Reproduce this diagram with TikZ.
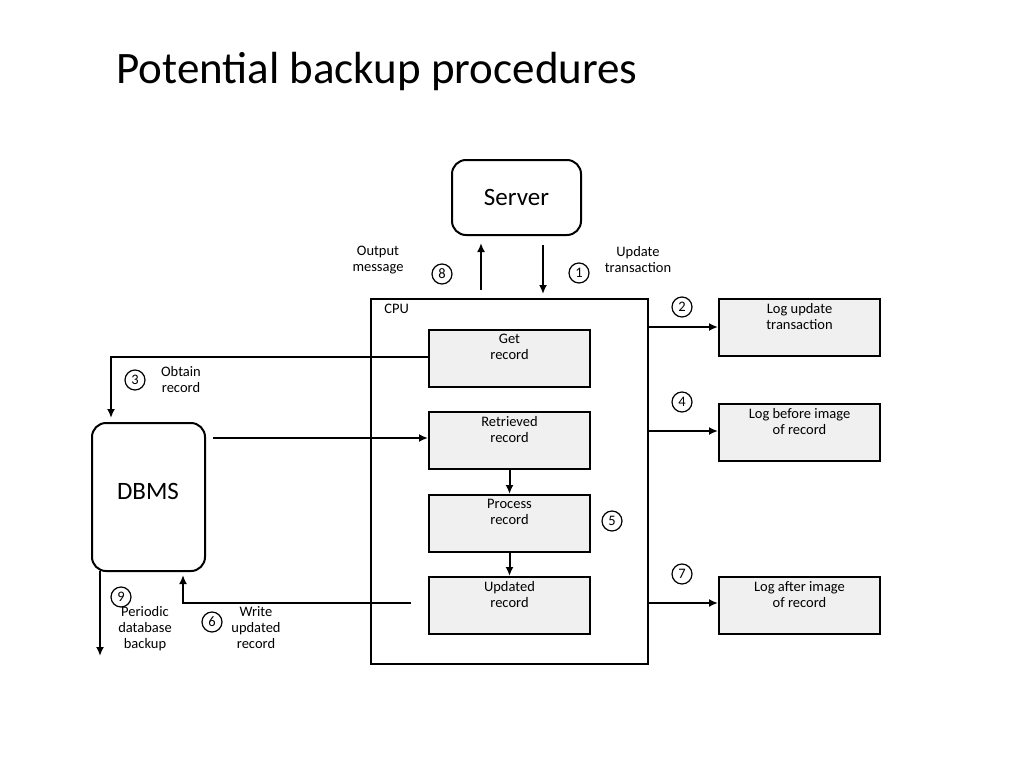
\documentclass[tikz,border=0pt]{standalone}
\usepackage{fontspec}
\setmainfont{Carlito}
\usetikzlibrary{arrows.meta}
\begin{document}
\begin{tikzpicture}[x=1pt,y=-1pt,line width=2pt,
  box/.style={draw,line width=2pt,fill=gray!12,minimum width=161pt,minimum height=57pt,anchor=north west,inner sep=0pt},
  lbl/.style={font=\fontsize{14.5}{16}\selectfont,align=center},
  num/.style={draw,circle,line width=1.2pt,inner sep=0pt,minimum size=20pt,font=\fontsize{14.5}{16}\selectfont},
  arr/.style={line width=2pt,-{Latex[length=9pt,width=8pt]}}]
\useasboundingbox (0,0) rectangle (1024,768);
\node[font=\fontsize{45}{52}\selectfont,anchor=west] (title) at (112,72) {Potential backup procedures};
\node[draw,rounded corners=14pt,minimum width=129pt,minimum height=75pt,font=\fontsize{25}{30}\selectfont] (server) at (516.5,197.5) {Server};
\node[draw,minimum width=277pt,minimum height=365pt,anchor=north west] (cpu) at (370,298) {};
\node[lbl,anchor=west] (cpul) at (380,309) {CPU};
\node[box] (get) at (428,329) {};
\node[lbl,anchor=north] at (get.north) [yshift=-1pt] {Get\\record};
\node[box] (ret) at (428,411) {};
\node[lbl,anchor=north] at (ret.north) [yshift=-1pt] {Retrieved\\record};
\node[box] (proc) at (428,494) {};
\node[lbl,anchor=north] at (proc.north) [yshift=-1pt] {Process\\record};
\node[box] (upd) at (428,576) {};
\node[lbl,anchor=north] at (upd.north) [yshift=-1pt] {Updated\\record};
\node[box] (l1) at (718,298) {};
\node[lbl,anchor=north] at (l1.north) [yshift=-1pt] {Log update\\transaction};
\node[box] (l2) at (718,403) {};
\node[lbl,anchor=north] at (l2.north) [yshift=-1pt] {Log before image\\of record};
\node[box] (l3) at (718,576) {};
\node[lbl,anchor=north] at (l3.north) [yshift=-1pt] {Log after image\\of record};
\node[draw,rounded corners=14pt,minimum width=113pt,minimum height=148pt] (dbms) at (148.5,497) {};
\node[font=\fontsize{25}{30}\selectfont] at (148,491) {DBMS};
\coordinate (a1) at (481,290); \coordinate (a2) at (481,243);
\draw[arr] (a1) -- (a2);
\coordinate (b1) at (543,245); \coordinate (b2) at (543,294);
\draw[arr] (b1) -- (b2);
\node[lbl] at (378,260) {Output\\message};
\node[num] at (442,274) {8};
\node[num] at (579,273) {1};
\node[lbl] at (638,260) {Update\\transaction};
\draw[arr] (ret.south) -- (proc.north);
\draw[arr] (proc.south) -- (upd.north);
\draw[arr] (647,327) -- (l1.west |- 0,327);
\draw[arr] (647,431) -- (l2.west |- 0,431);
\draw[arr] (647,603) -- (l3.west |- 0,603);
\node[num] at (682,307) {2};
\node[num] at (682,402) {4};
\node[num] at (682,574) {7};
\node[num] at (612,521) {5};
\coordinate (g1) at (111,357); \coordinate (g2) at (111,418);
\draw[arr] (get.west |- 0,357) -- (g1) -- (g2);
\node[num] at (135,380) {3};
\node[lbl] at (181,380) {Obtain\\record};
\coordinate (r0) at (213,438);
\draw[arr] (r0) -- (ret.west |- 0,438);
\coordinate (u0) at (411,603); \coordinate (u1) at (183,603); \coordinate (u2) at (183,575);
\draw[arr] (u0) -- (u1) -- (u2);
\node[num] at (212,622) {6};
\node[lbl] at (256,628) {Write\\updated\\record};
\coordinate (d0) at (100,571); \coordinate (d1) at (100,656);
\draw[arr] (d0) -- (d1);
\node[num] at (121,597) {9};
\node[lbl] at (145,629) {Periodic\\database\\backup};
\end{tikzpicture}
\end{document}
